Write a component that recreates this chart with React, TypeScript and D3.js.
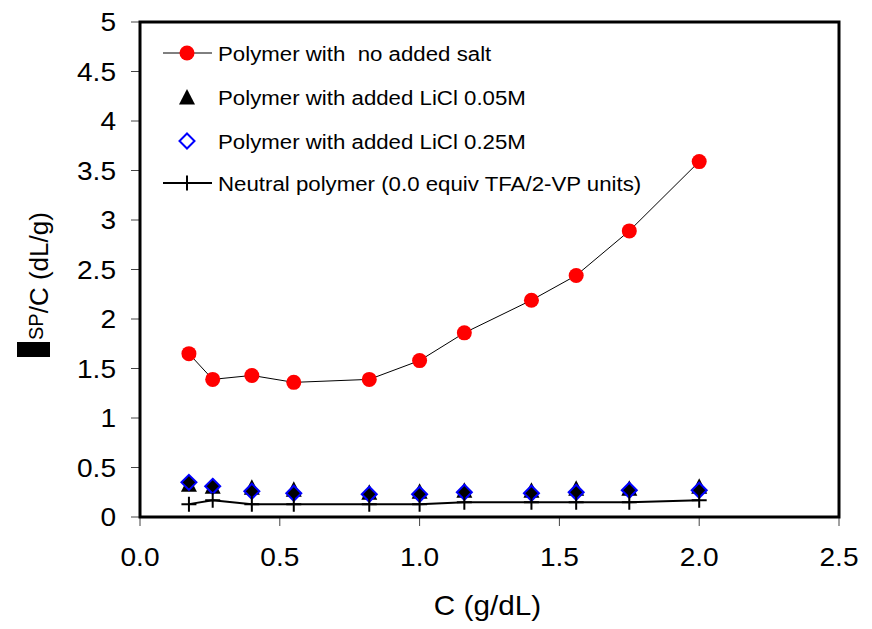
import React from "react";
import * as d3 from "d3";

const concentrations = [0.175, 0.26, 0.4, 0.55, 0.82, 1.0, 1.16, 1.4, 1.56, 1.75, 2.0];
const noSalt = [1.65, 1.39, 1.43, 1.36, 1.39, 1.58, 1.86, 2.19, 2.44, 2.89, 3.59];
const licl005 = [0.32, 0.3, 0.29, 0.27, 0.24, 0.25, 0.26, 0.26, 0.28, 0.28, 0.3];
const licl025 = [0.35, 0.31, 0.26, 0.24, 0.23, 0.23, 0.25, 0.24, 0.25, 0.27, 0.27];
const neutral = [0.13, 0.17, 0.13, 0.13, 0.13, 0.13, 0.15, 0.15, 0.15, 0.15, 0.17];

const xTicks = [0, 0.5, 1.0, 1.5, 2.0, 2.5];
const yTicks = [0, 0.5, 1, 1.5, 2, 2.5, 3, 3.5, 4, 4.5, 5];
const legendLabels = [
  "Polymer with  no added salt",
  "Polymer with added LiCl 0.05M",
  "Polymer with added LiCl 0.25M",
  "Neutral polymer (0.0 equiv TFA/2-VP units)",
];

const W = 872;
const H = 629;
const left = 140;
const right = 839;
const top = 22;
const bottom = 517;
const FONT = '"Liberation Sans", Arial, sans-serif';

const x = d3.scaleLinear().domain([0, 2.5]).range([left, right]);
const y = d3.scaleLinear().domain([0, 5]).range([bottom, top]);

const tri = (cx: number, cy: number) =>
  `M${cx},${cy - 9}L${cx + 8},${cy + 6.5}L${cx - 8},${cy + 6.5}Z`;
const dia = (cx: number, cy: number) =>
  `M${cx},${cy - 7.5}L${cx + 7.5},${cy}L${cx},${cy + 7.5}L${cx - 7.5},${cy}Z`;
const plus = (cx: number, cy: number) =>
  `M${cx - 7.5},${cy}H${cx + 7.5}M${cx},${cy - 7.5}V${cy + 7.5}`;

function T(props: {
  x: number;
  y: number;
  sx: number;
  size: number;
  anchor?: string;
  dy?: string;
  children: React.ReactNode;
}) {
  return (
    <text
      transform={`translate(${props.x},${props.y}) scale(${props.sx},1)`}
      textAnchor={props.anchor || "start"}
      dy={props.dy}
      fontSize={props.size}
      fill="#000"
      style={{ whiteSpace: "pre" }}
    >
      {props.children}
    </text>
  );
}

export default function App() {
  const line = d3
    .line<number>()
    .x((_, i) => x(concentrations[i]))
    .y((d) => y(d));

  const legendY = [53, 97, 141, 183];
  const lx = 187;

  return (
    <svg
      width={W}
      height={H}
      style={{ position: "absolute", left: 0, top: 0, display: "block", background: "#fff" }}
      fontFamily={FONT}
    >
      <rect x={0} y={0} width={W} height={H} fill="#fff" />
      {yTicks.map((t) => (
        <g key={"y" + t}>
          <line x1={131} x2={left} y1={y(t)} y2={y(t)} stroke="#444" strokeWidth={1} />
          <T x={116} y={y(t)} sx={1.08} size={26} anchor="end" dy="0.35em">
            {String(t)}
          </T>
        </g>
      ))}
      {xTicks.map((t) => (
        <g key={"x" + t}>
          <line x1={x(t)} x2={x(t)} y1={bottom} y2={526} stroke="#444" strokeWidth={1} />
          <T x={x(t)} y={566} sx={1.08} size={26} anchor="middle">
            {t.toFixed(1)}
          </T>
        </g>
      ))}

      {/* legend */}
      <g>
        <line x1={163} x2={212} y1={legendY[0]} y2={legendY[0]} stroke="#000" strokeWidth={1} />
        <circle cx={lx} cy={legendY[0]} r={7.5} fill="#ff0000" />
        <path d={tri(lx, legendY[1] + 1)} fill="#000" />
        <path d={dia(lx, legendY[2])} fill="#fff" stroke="#0000ff" strokeWidth={2} />
        <line x1={163} x2={212} y1={legendY[3]} y2={legendY[3]} stroke="#000" strokeWidth={2} />
        <path d={plus(lx, legendY[3])} stroke="#000" strokeWidth={2} fill="none" />
        {legendLabels.map((l, i) => (
          <T key={l} x={218} y={legendY[i]} sx={1.06} size={21} dy="0.36em">
            {l}
          </T>
        ))}
      </g>

      {/* series */}
      <path d={line(noSalt) || ""} fill="none" stroke="#000" strokeWidth={1} />
      {noSalt.map((v, i) => (
        <circle key={"c" + i} cx={x(concentrations[i])} cy={y(v)} r={7.5} fill="#ff0000" />
      ))}
      {licl005.map((v, i) => (
        <path key={"t" + i} d={tri(x(concentrations[i]), y(v))} fill="#000" />
      ))}
      {licl025.map((v, i) => (
        <path key={"d" + i} d={dia(x(concentrations[i]), y(v))} fill="#000" stroke="#0000ff" strokeWidth={2} />
      ))}
      <path d={line(neutral) || ""} fill="none" stroke="#000" strokeWidth={2} />
      {neutral.map((v, i) => (
        <path key={"p" + i} d={plus(x(concentrations[i]), y(v))} stroke="#000" strokeWidth={2} fill="none" />
      ))}

      {/* frame */}
      <rect x={left} y={top} width={right - left} height={bottom - top} fill="none" stroke="#000" strokeWidth={3} />

      {/* axis titles */}
      <T x={(left + right) / 2 - 2} y={615} sx={1.1} size={27} anchor="middle">
        C (g/dL)
      </T>
      <rect x={17} y={342} width={33} height={15} fill="#000" />
      <text transform="translate(43,340) rotate(-90)" fill="#000">
        <tspan fontSize={20}>SP</tspan>
        <tspan fontSize={26} dy={5}>/C (dL/g)</tspan>
      </text>
    </svg>
  );
}
